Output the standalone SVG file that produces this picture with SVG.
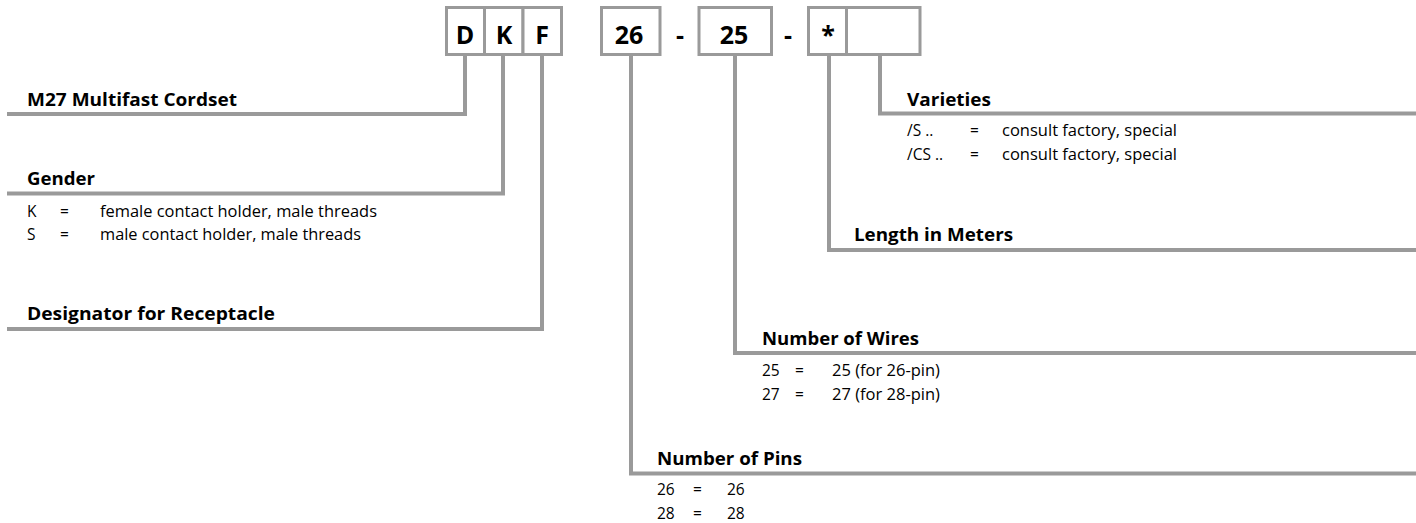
<svg xmlns="http://www.w3.org/2000/svg" width="1416" height="523" viewBox="0 0 1416 523">
<style>
.cell{fill:#fff;stroke:#9a9a9a;stroke-width:3}
.code{font-family:"Open Sans","Liberation Sans",sans-serif;font-weight:bold;font-size:25px;fill:#000;text-anchor:middle}
.lbl{font-family:"Open Sans","Liberation Sans",sans-serif;font-weight:bold;font-size:18px;fill:#000}
.row{font-family:"Open Sans","Liberation Sans",sans-serif;font-size:15.5px;fill:#000}
.con{fill:none;stroke:#9a9a9a;stroke-width:4;stroke-linejoin:miter}
</style>
<rect width="1416" height="523" fill="#fff"/>
<g id="connectors">
<polyline class="con" points="465,56 465,114 7,114"/>
<polyline class="con" points="503,56 503,193.5 7,193.5"/>
<polyline class="con" points="542,56 542,329 7,329"/>
<polyline class="con" points="631,56 631,473.5 1416,473.5"/>
<polyline class="con" points="735,56 735,353 1416,353"/>
<polyline class="con" points="829,56 829,250 1416,250"/>
<polyline class="con" points="880,56 880,113.5 1416,113.5"/>
</g>
<g id="code-boxes">
<rect class="cell" x="446.5" y="7.5" width="38" height="47"/>
<rect class="cell" x="484.5" y="7.5" width="38.5" height="47"/>
<rect class="cell" x="523" y="7.5" width="38.5" height="47"/>
<rect class="cell" x="601.5" y="7.5" width="58.5" height="47"/>
<rect class="cell" x="699" y="7.5" width="72.5" height="47"/>
<rect class="cell" x="808.5" y="7.5" width="38" height="47"/>
<rect class="cell" x="846.5" y="7.5" width="73.5" height="47"/>
<text class="code" x="465" y="44">D</text>
<text class="code" x="504" y="44">K</text>
<text class="code" x="542" y="44">F</text>
<text class="code" x="629" y="44">26</text>
<text class="code" x="680" y="44">-</text>
<text class="code" x="734" y="44">25</text>
<text class="code" x="788" y="44">-</text>
<text class="code" x="828" y="44">*</text>
</g>
<g id="node-cordset">
<text class="lbl" x="27" y="106" textLength="210" lengthAdjust="spacingAndGlyphs">M27 Multifast Cordset</text>
</g>
<g id="node-gender">
<text class="lbl" x="27" y="185" textLength="68" lengthAdjust="spacingAndGlyphs">Gender</text>
<text class="row" x="27" y="217">K</text>
<text class="row" x="60" y="217">=</text>
<text class="row" x="100" y="217" textLength="277" lengthAdjust="spacingAndGlyphs">female contact holder, male threads</text>
<text class="row" x="27" y="240">S</text>
<text class="row" x="60" y="240">=</text>
<text class="row" x="100" y="240" textLength="261" lengthAdjust="spacingAndGlyphs">male contact holder, male threads</text>
</g>
<g id="node-designator">
<text class="lbl" x="27" y="320" textLength="248" lengthAdjust="spacingAndGlyphs">Designator for Receptacle</text>
</g>
<g id="node-varieties">
<text class="lbl" x="907" y="106" textLength="84" lengthAdjust="spacingAndGlyphs">Varieties</text>
<text class="row" x="907" y="136">/S ..</text>
<text class="row" x="970" y="136">=</text>
<text class="row" x="1002" y="136" textLength="175" lengthAdjust="spacingAndGlyphs">consult factory, special</text>
<text class="row" x="907" y="160">/CS ..</text>
<text class="row" x="970" y="160">=</text>
<text class="row" x="1002" y="160" textLength="175" lengthAdjust="spacingAndGlyphs">consult factory, special</text>
</g>
<g id="node-length">
<text class="lbl" x="854" y="241" textLength="159" lengthAdjust="spacingAndGlyphs">Length in Meters</text>
</g>
<g id="node-wires">
<text class="lbl" x="762" y="345" textLength="157" lengthAdjust="spacingAndGlyphs">Number of Wires</text>
<text class="row" x="762" y="376">25</text>
<text class="row" x="795" y="376">=</text>
<text class="row" x="832" y="376" textLength="108" lengthAdjust="spacingAndGlyphs">25 (for 26-pin)</text>
<text class="row" x="762" y="400">27</text>
<text class="row" x="795" y="400">=</text>
<text class="row" x="832" y="400" textLength="108" lengthAdjust="spacingAndGlyphs">27 (for 28-pin)</text>
</g>
<g id="node-pins">
<text class="lbl" x="657" y="465" textLength="145" lengthAdjust="spacingAndGlyphs">Number of Pins</text>
<text class="row" x="657" y="495">26</text>
<text class="row" x="693" y="495">=</text>
<text class="row" x="727" y="495">26</text>
<text class="row" x="657" y="519">28</text>
<text class="row" x="693" y="519">=</text>
<text class="row" x="727" y="519">28</text>
</g>
</svg>
